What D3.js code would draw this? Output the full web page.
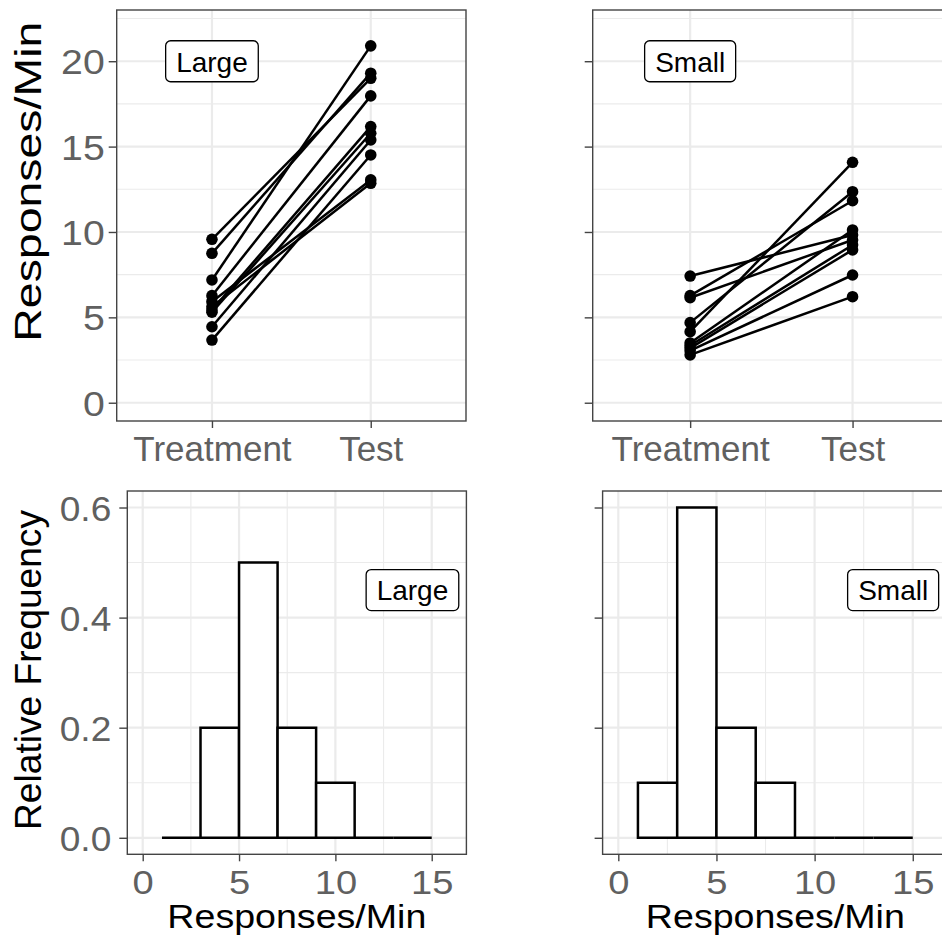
<!DOCTYPE html>
<html>
<head>
<meta charset="utf-8">
<script src="https://cdn.jsdelivr.net/npm/d3@7"></script>
<style>
  html, body { margin: 0; padding: 0; background: #fff; }
  svg { display: block; font-family: "Liberation Sans", Arial, Helvetica, sans-serif; }
</style>
</head>
<body>
<svg id="chart" width="942" height="946"></svg>
<script>
// Response rates for each subject, one entry per subject (Treatment paired with Test)
const conditions = ["Treatment", "Test"];
const largeTreatment = [9.57, 8.75, 7.19, 6.27, 5.92, 5.62, 5.43, 5.30, 4.45, 3.67];
const largeTest      = [19.0, 19.3, 20.9, 17.97, 13.05, 12.85, 16.17, 15.78, 15.39, 14.51];
const smallTreatment = [7.42, 6.27, 6.15, 4.69, 4.16, 3.50, 3.35, 3.20, 3.05, 2.80];
const smallTest      = [9.82, 11.83, 9.53, 12.36, 14.08, 10.12, 9.24, 8.95, 7.48, 6.21];
const groupLabels = ["Large", "Small"];

// Axis ticks
const rateTicks = [0, 5, 10, 15, 20];
const freqTicks = [0, 0.2, 0.4, 0.6];
const histTicks = [0, 5, 10, 15];
const binEdges = [1, 3, 5, 7, 9, 11, 13, 15];

const svg = d3.select("#chart");

const TICK_COLOR = "#606060";
const BORDER = "#444";
const GRID = "#ebebeb";

function stretch(sel, k) {
  sel.each(function () {
    const w = this.getComputedTextLength();
    d3.select(this).attr("textLength", w * k).attr("lengthAdjust", "spacingAndGlyphs");
  });
}

// Panel frames
const frames = {
  tl: { x0: 116.7, x1: 466.0, y0: 10, y1: 421 },
  tr: { x0: 592.7, x1: 950.0, y0: 10, y1: 421 },
  bl: { x0: 127.3, x1: 466.4, y0: 491, y1: 854.3 },
  br: { x0: 602.6, x1: 948.1, y0: 491, y1: 854.3 }
};

function drawFrameBg(f) {
  svg.append("rect").attr("x", f.x0).attr("y", f.y0)
    .attr("width", f.x1 - f.x0).attr("height", f.y1 - f.y0).attr("fill", "#fff");
}
function drawBorder(f) {
  svg.append("rect").attr("x", f.x0).attr("y", f.y0)
    .attr("width", f.x1 - f.x0).attr("height", f.y1 - f.y0)
    .attr("fill", "none").attr("stroke", BORDER).attr("stroke-width", 1.4);
}
function hGrid(f, y, vals, w) {
  svg.append("g").selectAll("line").data(vals).join("line")
    .attr("x1", f.x0).attr("x2", f.x1)
    .attr("y1", d => y(d)).attr("y2", d => y(d))
    .attr("stroke", GRID).attr("stroke-width", w);
}
function vGrid(f, xs, w) {
  svg.append("g").selectAll("line").data(xs).join("line")
    .attr("y1", f.y0).attr("y2", f.y1)
    .attr("x1", d => d).attr("x2", d => d)
    .attr("stroke", GRID).attr("stroke-width", w);
}
function styleAxis(g, size) {
  g.select(".domain").remove();
  g.selectAll(".tick line").attr("stroke", BORDER).attr("stroke-width", 1.4);
  g.selectAll(".tick text").attr("fill", TICK_COLOR).attr("font-size", size || 35)
    .attr("font-family", "'Liberation Sans', Arial, sans-serif");
}
function label(x, y, text) {
  const g = svg.append("g");
  const t = g.append("text").attr("x", x).attr("y", y + 10.3)
    .attr("text-anchor", "middle").attr("font-size", 28).attr("fill", "#000").text(text);
  const w = t.node().getComputedTextLength() + 21;
  g.insert("rect", "text").attr("x", x - w / 2).attr("y", y - 20.5)
    .attr("width", w).attr("height", 41).attr("rx", 5)
    .attr("fill", "#fff").attr("stroke", "#000").attr("stroke-width", 1.3);
}

// ---------- Top row: paired Treatment/Test lines ----------
function pairedPanel(f, treat, test, name, showLabels) {
  const x = d3.scalePoint().domain(conditions).range([f.x0, f.x1]).padding(0.6);
  const y = d3.scaleLinear().domain([-1.07, 23.0]).range([f.y1, f.y0]);
  drawFrameBg(f);
  hGrid(f, y, [2.5, 7.5, 12.5, 17.5, 22.5], 1.1);
  hGrid(f, y, rateTicks, 2.2);
  vGrid(f, conditions.map(c => x(c)), 2.2);

  const rows = treat.map((v, i) => [v, test[i]]);
  svg.append("g").selectAll("line").data(rows).join("line")
    .attr("x1", x(conditions[0])).attr("x2", x(conditions[1]))
    .attr("y1", d => y(d[0])).attr("y2", d => y(d[1]))
    .attr("stroke", "#000").attr("stroke-width", 2.5);
  const pts = [];
  rows.forEach(d => { pts.push([conditions[0], d[0]]); pts.push([conditions[1], d[1]]); });
  svg.append("g").selectAll("circle").data(pts).join("circle")
    .attr("cx", d => x(d[0])).attr("cy", d => y(d[1])).attr("r", 5.8).attr("fill", "#000");

  label(x(conditions[0]), y(20), name);
  drawBorder(f);

  const ya = svg.append("g").attr("transform", `translate(${f.x0},0)`)
    .call(d3.axisLeft(y).tickValues(rateTicks).tickSize(8).tickPadding(4)
      .tickFormat(showLabels ? d3.format("d") : () => ""));
  styleAxis(ya);
  ya.selectAll(".tick text").attr("dy", "0.36em");
  if (showLabels) stretch(ya.selectAll(".tick text"), 1.12);

  const xa = svg.append("g").attr("transform", `translate(0,${f.y1})`)
    .call(d3.axisBottom(x).tickSize(7).tickPadding(6));
  styleAxis(xa);
  xa.selectAll(".tick text").attr("dy", 0).attr("y", 40);
}

pairedPanel(frames.tl, largeTreatment, largeTest, groupLabels[0], true);
pairedPanel(frames.tr, smallTreatment, smallTest, groupLabels[1], false);

// ---------- Bottom row: histograms of Treatment rates ----------
function histPanel(f, treat, name, showLabels) {
  const x = d3.scaleLinear().domain([-0.8, 16.8]).range([f.x0, f.x1]);
  const y = d3.scaleLinear().domain([-0.03, 0.63]).range([f.y1, f.y0]);
  drawFrameBg(f);
  hGrid(f, y, [0.1, 0.3, 0.5], 1.1);
  vGrid(f, [2.5, 7.5, 12.5].map(x), 1.1);
  hGrid(f, y, freqTicks, 2.2);
  vGrid(f, histTicks.map(x), 2.2);

  const bins = d3.bin().domain([binEdges[0], binEdges[binEdges.length - 1]])
    .thresholds(binEdges.slice(1, -1))(treat);
  const n = treat.length;
  svg.append("g").selectAll("path").data(bins).join("path")
    .attr("d", b => {
      const x0 = x(b.x0), x1 = x(b.x1), y0 = y(0), y1 = y(b.length / n);
      return `M${x0},${y0}V${y1}H${x1}V${y0}Z`;
    })
    .attr("fill", "#fff").attr("stroke", "#000").attr("stroke-width", 2.5)
    .attr("stroke-linejoin", "miter");

  label(x(14), y(0.45), name);
  drawBorder(f);

  const ya = svg.append("g").attr("transform", `translate(${f.x0},0)`)
    .call(d3.axisLeft(y).tickValues(freqTicks).tickSize(8).tickPadding(8)
      .tickFormat(showLabels ? d3.format(".1f") : () => ""));
  styleAxis(ya);
  ya.selectAll(".tick text").attr("dy", "0.36em");
  if (showLabels) stretch(ya.selectAll(".tick text"), 1.06);

  const xa = svg.append("g").attr("transform", `translate(0,${f.y1})`)
    .call(d3.axisBottom(x).tickValues(histTicks).tickSize(7).tickFormat(d3.format("d")));
  styleAxis(xa, 34);
  xa.selectAll(".tick text").attr("dy", 0).attr("y", 39.5);
  stretch(xa.selectAll(".tick text"), 1.12);

  // x-axis title
  svg.append("text").attr("x", (f.x0 + f.x1) / 2).attr("y", 927.5)
    .attr("text-anchor", "middle").attr("font-size", 32.5).attr("fill", "#000")
    .attr("textLength", 259).attr("lengthAdjust", "spacingAndGlyphs")
    .text("Responses/Min");
}

histPanel(frames.bl, largeTreatment, groupLabels[0], true);
histPanel(frames.br, smallTreatment, groupLabels[1], false);

// ---------- Y-axis titles ----------
function yTitle(cx, cy, text) {
  svg.append("text").attr("transform", `translate(${cx},${cy}) rotate(-90)`)
    .attr("text-anchor", "middle").attr("font-size", 37).attr("fill", "#000")
    .attr("textLength", 320).attr("lengthAdjust", "spacingAndGlyphs")
    .text(text);
}
yTitle(40.5, 181.7, "Responses/Min");
yTitle(40.5, 670, "Relative Frequency");
</script>
</body>
</html>
